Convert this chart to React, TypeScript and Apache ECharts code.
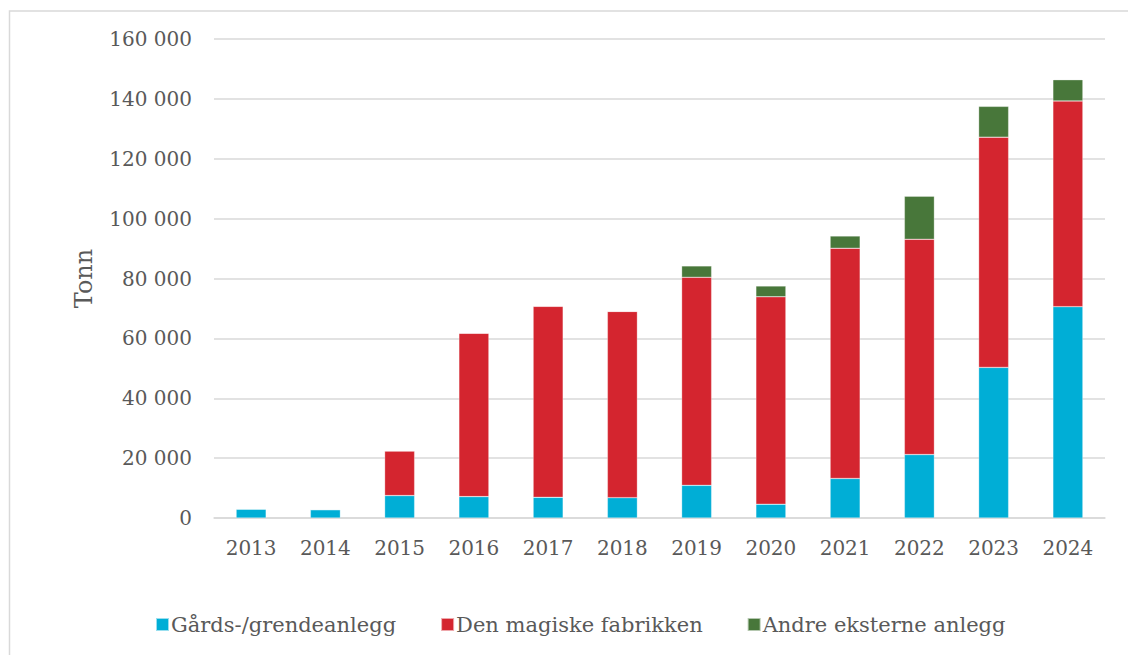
import React, { useEffect, useRef } from "react";
import * as echarts from "echarts";

const years = ["2013", "2014", "2015", "2016", "2017", "2018", "2019", "2020", "2021", "2022", "2023", "2024"];
const gards = [3000, 2800, 7500, 7150, 6900, 6800, 10900, 4600, 13200, 21200, 50300, 70600];
const magiske = [0, 0, 14900, 54550, 63800, 62200, 69500, 69300, 76900, 71900, 76900, 68700];
const andre = [0, 0, 0, 0, 0, 0, 3800, 3600, 4100, 14400, 10300, 7100];
const seriesNames = ["Gårds-/grendeanlegg", "Den magiske fabrikken", "Andre eksterne anlegg"];
const colors = ["#00AED6", "#D4252F", "#48773A"];

const FONT = "DejaVu Serif";

export default function App() {
  const ref = useRef<HTMLDivElement>(null);
  useEffect(() => {
    if (!ref.current) return;
    const chart = echarts.init(ref.current, null, { renderer: "svg" });
    const fmt = (v: number) => String(v).replace(/\B(?=(\d{3})+(?!\d))/g, " ");
    const mk = (name: string, data: number[], color: string) => ({
      name,
      type: "bar",
      stack: "total",
      data,
      barWidth: 30,
      itemStyle: { color, borderColor: "rgba(255,255,255,0.6)", borderWidth: 0.5 },
    });
    chart.setOption({
      animation: false,
      backgroundColor: "#ffffff",
      textStyle: { fontFamily: FONT },
      graphic: [
        {
          type: "rect",
          shape: { x: 9.5, y: 11, width: 1140, height: 700 },
          style: { fill: "none", stroke: "#d9d9d9", lineWidth: 1.5 },
          silent: true,
        },
      ],
      grid: { left: 214, right: 23, top: 39, bottom: 137, containLabel: false },
      legend: {
        left: 150,
        top: 609,
        itemWidth: 13,
        itemHeight: 13,
        itemGap: 44,
        icon: "rect",
        textStyle: { fontFamily: FONT, fontSize: 21, color: "#595959", padding: [0, 0, 0, -3] },
        data: seriesNames,
      },
      xAxis: {
        type: "category",
        data: years,
        axisLine: { show: true, lineStyle: { color: "#d9d9d9", width: 1.5 } },
        axisTick: { show: false },
        axisLabel: { fontFamily: FONT, fontSize: 20, color: "#595959", margin: 20 },
      },
      yAxis: {
        type: "value",
        min: 0,
        max: 160000,
        interval: 20000,
        name: "Tonn",
        nameLocation: "middle",
        nameGap: 118,
        nameTextStyle: { fontFamily: FONT, fontSize: 24, color: "#595959" },
        axisLine: { show: false },
        axisTick: { show: false },
        splitLine: { lineStyle: { color: "#d9d9d9", width: 1.5 } },
        axisLabel: { fontFamily: FONT, fontSize: 20, color: "#595959", margin: 22, formatter: fmt },
      },
      series: [
        mk(seriesNames[0], gards, colors[0]),
        mk(seriesNames[1], magiske, colors[1]),
        mk(seriesNames[2], andre, colors[2]),
      ],
    });
    return () => chart.dispose();
  }, []);
  return (
    <div
      ref={ref}
      style={{ position: "fixed", left: 0, top: 0, width: 1128, height: 655 }}
    />
  );
}
